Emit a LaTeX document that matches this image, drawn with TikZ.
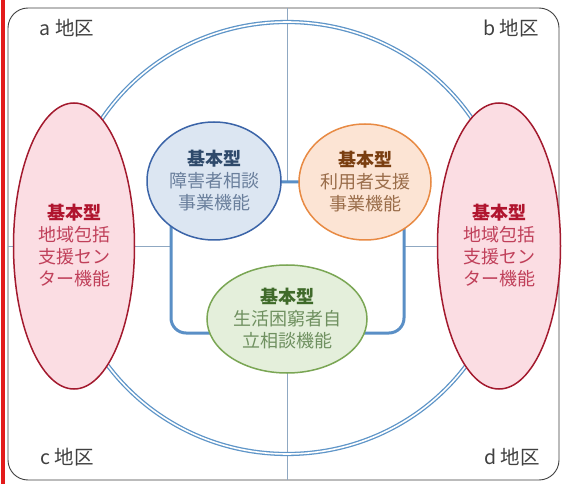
\documentclass[tikz,border=0pt]{standalone}
\usepackage{fontspec}
\setmainfont{Noto Sans CJK JP}
\usetikzlibrary{shapes.geometric}
\definecolor{thinline}{HTML}{8FA8C2}
\definecolor{framegray}{HTML}{404040}
\definecolor{ringblue}{HTML}{5E95C8}
\definecolor{connblue}{HTML}{5A8FC6}
\definecolor{bfill}{HTML}{DCE6F2}\definecolor{bdraw}{HTML}{3B64A8}
\definecolor{btitle}{HTML}{2F4A6B}\definecolor{btext}{HTML}{6A7F9C}
\definecolor{ofill}{HTML}{FCE4D4}\definecolor{odraw}{HTML}{E88A43}
\definecolor{otitle}{HTML}{7A3E10}\definecolor{otext}{HTML}{9A6D4A}
\definecolor{gfill}{HTML}{E4EFDB}\definecolor{gdraw}{HTML}{7AA654}
\definecolor{gtitle}{HTML}{3F6A2A}\definecolor{gtext}{HTML}{6F9060}
\definecolor{rfill}{HTML}{FBDDE3}\definecolor{rdraw}{HTML}{A31A2E}
\definecolor{rtitle}{HTML}{B0142E}\definecolor{rtext}{HTML}{C0405A}
\definecolor{barred}{HTML}{E31B1B}
\tikzset{
  blob/.style={ellipse, inner sep=0pt, line width=1.5pt, align=center,
    font=\fontsize{18}{22}\selectfont},
  region/.style={font=\fontsize{19.5}{22}\selectfont, text=framegray, inner sep=0pt},
  conn/.style={draw=connblue, line width=3pt},
}
\begin{document}
\begin{tikzpicture}[x=1pt,y=-1pt]
\useasboundingbox (0,0) rectangle (563,484);
\fill[white] (0,0) rectangle (563,484);
\fill[barred] (1,0) rectangle (5,484);
% outer frame
\draw[framegray, line width=0.9pt, rounded corners=20] (8,8) rectangle (559,480);
% quadrant lines
\coordinate (vt) at (287,8); \coordinate (vb) at (287,480);
\coordinate (hl) at (8,246); \coordinate (hr) at (559,246);
\draw[thinline, line width=0.8pt] (vt) -- (vb);
\draw[thinline, line width=0.8pt] (hl) -- (hr);
% big ring
\draw[ringblue, line width=4.2pt] (287,238) ellipse [x radius=222, y radius=216];
\draw[white, line width=1.6pt] (287,238) ellipse [x radius=222, y radius=216];
% connector frame
\node[conn, fill=white, rectangle, rounded corners=15, minimum width=233pt, minimum height=151pt, inner sep=0pt] (frame) at (287.5,257.5) {};
% region ellipses
\node[blob, fill=rfill, draw=rdraw, minimum width=121pt, minimum height=286pt] (left) at (74,246)
  {\textcolor{rtitle}{\bfseries 基本型}\\\textcolor{rtext}{地域包括}\\\textcolor{rtext}{支援セン}\\\textcolor{rtext}{ター機能}};
\node[blob, fill=rfill, draw=rdraw, minimum width=123pt, minimum height=286pt] (right) at (499,246)
  {\textcolor{rtitle}{\bfseries 基本型}\\\textcolor{rtext}{地域包括}\\\textcolor{rtext}{支援セン}\\\textcolor{rtext}{ター機能}};
% inner functions
\node[blob, fill=bfill, draw=bdraw, minimum width=134pt, minimum height=118pt] (blue) at (214,181)
  {\textcolor{btitle}{\bfseries 基本型}\\\textcolor{btext}{障害者相談}\\\textcolor{btext}{事業機能}};
\node[blob, fill=ofill, draw=odraw, minimum width=132pt, minimum height=116pt] (orange) at (365,182)
  {\textcolor{otitle}{\bfseries 基本型}\\\textcolor{otext}{利用者支援}\\\textcolor{otext}{事業機能}};
\node[blob, fill=gfill, draw=gdraw, minimum width=160pt, minimum height=108pt] (green) at (287,319)
  {\textcolor{gtitle}{\bfseries 基本型}\\\textcolor{gtext}{生活困窮者自}\\\textcolor{gtext}{立相談機能}};
% labels
\node[region] (la) at (67,28) {a 地区};
\node[region] (lb) at (511,28) {b 地区};
\node[region] (lc) at (67,457) {c 地区};
\node[region] (ld) at (512,457) {d 地区};
\end{tikzpicture}
\end{document}
